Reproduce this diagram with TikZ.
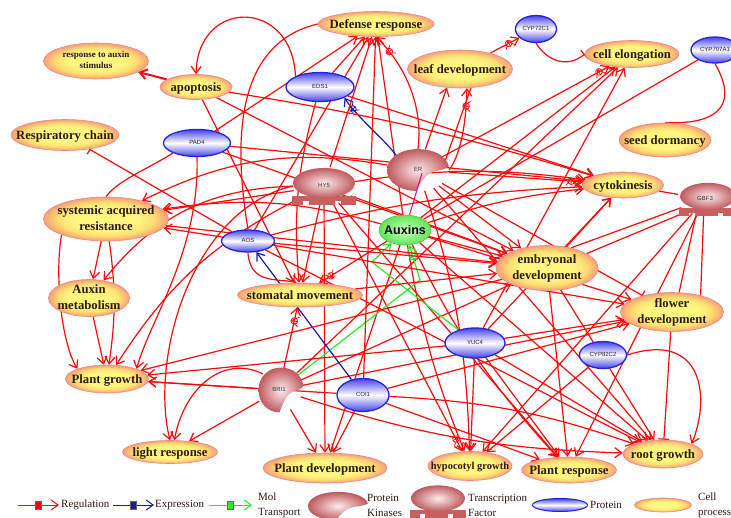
\documentclass[tikz,border=0pt]{standalone}
\usepackage{fontspec}
\setmainfont{Liberation Serif}
\setsansfont{Liberation Sans}
\usetikzlibrary{shapes.geometric,arrows.meta,decorations.markings}
\pgfdeclarelayer{bg}
\pgfdeclarelayer{edges}
\pgfsetlayers{bg,edges,main}
\definecolor{cpin}{RGB}{255,246,128}
\definecolor{cpmid}{RGB}{253,222,115}
\definecolor{cpout}{RGB}{246,160,118}
\definecolor{cpline}{RGB}{240,135,135}
\definecolor{pblue}{RGB}{35,35,230}
\definecolor{tfin}{RGB}{252,236,236}
\definecolor{tfout}{RGB}{192,90,95}
\definecolor{tfbase}{RGB}{200,95,95}
\definecolor{auxin}{RGB}{205,255,195}
\definecolor{auxout}{RGB}{95,230,85}
\definecolor{ered}{RGB}{250,10,10}
\definecolor{eblue}{RGB}{25,25,165}
\definecolor{egreen}{RGB}{40,235,40}
\definecolor{txt}{RGB}{45,25,20}
\pgfdeclareradialshading{cpshade}{\pgfpoint{0bp}{0bp}}{color(0bp)=(cpin); color(13bp)=(cpin); color(19bp)=(cpmid); color(25bp)=(cpout); color(50bp)=(cpout)}
\newcommand\cpf{\fontsize{12.7}{15.5}\selectfont\bfseries}
\newcommand\cpsf{\fontsize{9}{11}\selectfont\bfseries}
\newcommand\hypf{\fontsize{10.5}{12}\selectfont\bfseries}
\newcommand\prf{\fontsize{6}{7}\selectfont\sffamily}
\newcommand\auxf{\fontsize{12.5}{14}\selectfont\sffamily\bfseries}
\newcommand\legf{\fontsize{11}{15}\selectfont}
\newcommand\zt[1]{\makebox[0pt]{\raisebox{-0.33em}[0pt][0pt]{#1}}}
\newcommand\ztt[2]{\makebox[0pt]{\raisebox{-0.25em}[0pt][0pt]{\begin{tabular}{@{}c@{}}#1\\#2\end{tabular}}}}
\newcommand\opmark[1]{\draw[#1, fill=white, line width=0.8pt] (0,0) circle (3.3pt); \draw[#1, line width=0.8pt] (-3.3pt,0) -- (3.3pt,0) (0,-3.3pt) -- (0,3.3pt);}
\tikzset{
  cp/.style={ellipse, inner sep=0pt, draw=cpline, line width=0.6pt, shade, shading=cpshade, font=\cpf, text=txt},
  prot/.style={ellipse, inner sep=0pt, draw=pblue, line width=1.3pt, top color=pblue!85!white, bottom color=pblue!85!white, middle color=white, font=\prf, text=black!85},
  auxn/.style={ellipse, inner sep=0pt, draw=auxout!80!black, line width=0.5pt, inner color=auxin, outer color=auxout, font=\auxf, text=black},
  tfn/.style={ellipse, inner sep=0pt, font=\prf, text=black!80},
  ebase/.style={line width=1.2pt, line join=round},
  re/.style={ebase, draw=ered, -{Straight Barb[length=7pt,width=10pt]}},
  rl/.style={ebase, draw=ered},
  rb/.style={ebase, draw=ered, -{Bar[width=11pt]}},
  be/.style={ebase, draw=eblue, -{Straight Barb[length=7pt,width=10pt]}},
  ge/.style={ebase, draw=egreen, -{Straight Barb[length=7pt,width=10pt]}},
  pe/.style={line width=1pt, draw=magenta},
  op/.style={postaction={decorate,decoration={markings,mark=at position #1 with {\opmark{ered}}}}},
  op/.default=-14pt,
  opb/.style={postaction={decorate,decoration={markings,mark=at position #1 with {\opmark{eblue}}}}},
  opb/.default=-14pt,
  opg/.style={postaction={decorate,decoration={markings,mark=at position #1 with {\opmark{egreen}}}}},
  opg/.default=-14pt,
  sq/.style={rectangle, minimum width=6pt, minimum height=8pt, inner sep=0pt, draw=black!60},
  legt/.style={anchor=west, font=\legf, text=txt, inner sep=1pt, align=left},
  tfpic/.pic={
    \fill[tfbase] (-32,10) rectangle (32,15);
    \fill[tfbase] (-32,15) rectangle (-21,19);
    \fill[tfbase] (-15,15) rectangle (11,19);
    \fill[tfbase] (17,15) rectangle (32,19);
    \shade[inner color=tfin, outer color=tfout] (0,-3) ellipse [x radius=31, y radius=15];
  },
  kin/.pic={
    \shade[inner color=tfin, outer color=tfout] (30,-4) .. controls (27,-16) and (14,-22) .. (0,-22) .. controls (-18,-22) and (-30,-12) .. (-30,0) .. controls (-30,13) and (-17,22) .. (-2,22) .. controls (3,12) and (8,3) .. (18,1) .. controls (24,0) and (28,-2) .. (30,-4) -- cycle;
  }
}
\begin{document}
\begin{tikzpicture}[x=1pt,y=-1pt]
\useasboundingbox (0,0) rectangle (731,517);
\begin{pgfonlayer}{bg}
\fill[white] (0,0) rectangle (731,517);
\end{pgfonlayer}

% special shapes
\pic at (324,186) {tfpic};
\pic[scale=0.9] at (708,199) {tfpic};
\pic[xscale=1.03,yscale=0.95] at (418,170) {kin};
\pic[xscale=0.75,yscale=1.02] at (281,390) {kin};

% cell processes
\node[cp, minimum width=105pt, minimum height=36pt, font=\cpsf] (ras) at (96,61) {\ztt{response to auxin}{stimulus}};
\node[cp, minimum width=72pt, minimum height=25pt] (apo) at (196,87) {\zt{apoptosis}};
\node[cp, minimum width=116pt, minimum height=25pt] (def) at (376,24) {\zt{Defense response}};
\node[cp, minimum width=105pt, minimum height=38pt] (leaf) at (460,69) {\zt{leaf development}};
\node[cp, minimum width=94pt, minimum height=27pt] (celong) at (632,54) {\zt{cell elongation}};
\node[cp, minimum width=108pt, minimum height=31pt] (resp) at (65,135) {\zt{Respiratory chain}};
\node[cp, minimum width=92pt, minimum height=34pt] (seed) at (665,140) {\zt{seed dormancy}};
\node[cp, minimum width=81pt, minimum height=26pt] (cyto) at (623,185) {\zt{cytokinesis}};
\node[cp, minimum width=125pt, minimum height=44pt] (sar) at (106,219) {\ztt{systemic acquired}{resistance}};
\node[cp, minimum width=102pt, minimum height=45pt] (emb) at (547,268) {\ztt{embryonal}{development}};
\node[cp, minimum width=81pt, minimum height=37pt] (ameta) at (89,298) {\ztt{Auxin}{metabolism}};
\node[cp, minimum width=125pt, minimum height=24pt] (stom) at (300,295) {\zt{stomatal movement}};
\node[cp, minimum width=103pt, minimum height=39pt] (flower) at (672,312) {\ztt{flower}{development}};
\node[cp, minimum width=83pt, minimum height=28pt] (pgrowth) at (107,379) {\zt{Plant growth}};
\node[cp, minimum width=95pt, minimum height=23pt] (light) at (170,452) {\zt{light response}};
\node[cp, minimum width=124pt, minimum height=30pt] (pdev) at (325,468) {\zt{Plant development}};
\node[cp, minimum width=84pt, minimum height=29pt, font=\hypf] (hypo) at (470,466) {\zt{hypocotyl growth}};
\node[cp, minimum width=95pt, minimum height=26pt] (presp) at (569,470) {\zt{Plant response}};
\node[cp, minimum width=80pt, minimum height=28pt] (root) at (663,454) {\zt{root growth}};

% proteins
\node[prot, minimum width=41pt, minimum height=27pt] (cyp72) at (536,29) {\zt{CYP72C1}};
\node[prot, minimum width=48pt, minimum height=26pt] (cyp707) at (715,50) {\zt{CYP707A1}};
\node[prot, minimum width=68pt, minimum height=29pt] (eds) at (320,87) {\zt{EDS1}};
\node[prot, minimum width=67pt, minimum height=27pt] (pad) at (197,143) {\zt{PAD4}};
\node[prot, minimum width=53pt, minimum height=22pt] (aos) at (248,241) {\zt{AOS}};
\node[prot, minimum width=60pt, minimum height=30pt] (yuc) at (475,343) {\zt{YUC4}};
\node[prot, minimum width=47pt, minimum height=27pt] (cyp82) at (603,355) {\zt{CYP82C2}};
\node[prot, minimum width=52pt, minimum height=33pt] (coi) at (363,395) {\zt{COI1}};

% transcription factors / kinases
\node[tfn, minimum width=62pt, minimum height=38pt] (hy5) at (324,186) {\zt{HY5}};
\node[tfn, minimum width=56pt, minimum height=32pt] (gbf) at (705,199) {\zt{GBF3}};
\node[tfn, minimum width=62pt, minimum height=42pt] (er) at (418,170) {\zt{ER}};
\node[tfn, minimum width=45pt, minimum height=45pt] (bri) at (279,390) {\zt{BRI1}};

% Auxins
\node[auxn, minimum width=52pt, minimum height=30pt] (aux) at (405,230) {\zt{Auxins}};

\draw[pe] ([xshift=4pt,yshift=-3pt]er.center) -- (aux);

\coordinate (gk1) at (372,262);
\coordinate (gk2) at (420,280);

\begin{pgfonlayer}{edges}
% Auxins
\draw[re] (aux) -- (def);
\draw[re] (aux) -- (celong);
\draw[re] (aux) to[bend left=6] (cyto);
\draw[re] (aux) -- (emb);
\draw[re] (aux) -- (flower);
\draw[re] (aux) -- (root);
\draw[re] (aux) to[bend right=8] (presp);
\draw[re] (aux) to[bend right=6] (hypo);
\draw[re] (aux) -- (pdev);
\draw[re,op] (aux) -- (stom);
\draw[re] (aux) to[bend right=12] (sar);
% ER
\draw[re,op=-20pt] (er.north) .. controls (424,100) and (400,60) .. (def.south);
\draw[re] (er) -- (leaf.235);
\draw[re,op=-18pt] (er.east) .. controls (462,152) and (466,120) .. (leaf.290);
\draw[rl] (er.20) -- (leaf.300);
\draw[be,opb] (er.north west) .. controls (385,140) and (355,115) .. (eds.south east);
\draw[re,op=-12pt] (er) -- (celong);
\draw[re,op=-12pt] (er) -- (cyto);
\draw[re] (er) to[bend right=18] (sar);
\draw[re] (er) -- (root);
\draw[rb] (er) -- (flower);
\draw[re] (er) to[bend left=8] (hypo);
\draw[re] (er) -- (emb);
% HY5
\draw[re] (hy5) -- (def);
\draw[re] (hy5) -- (stom);
\draw[re] (hy5) -- (sar);
\draw[re] (hy5) -- (pdev);
\draw[re] (hy5) to[bend right=25] (ameta);
\draw[re] (hy5) -- (emb);
\draw[re] (hy5) to[bend left=8] (cyto);
\draw[re] (hy5) -- (presp);
\draw[re] (hy5.west) .. controls (190,210) and (150,360) .. (light.north);
\draw[re,op] (hy5) -- (hypo);
\draw[re] (hy5) to[bend right=15] (pgrowth);
% BRI1
\draw[re] (bri) -- (pdev);
\draw[re] (bri) -- (light);
\draw[re] (bri.north west) .. controls (225,355) and (185,385) .. (light.70);
\draw[re] (bri) -- (pgrowth);
\draw[re] (bri) -- (celong);
\draw[re] (bri) -- (emb);
\draw[re] (bri) to[bend right=8] (root);
\draw[re,op] (bri) -- (stom);
\draw[re] (bri) -- (flower);
\draw[ge] (yuc) -- (gk1) -- (aux);
\draw[ge,opg=-12pt] (bri) -- (gk2) -- (aux);
% COI1
\draw[be] (coi) -- (aos);
\draw[re] (coi) -- (pgrowth);
\draw[re] (coi) to[bend left=8] (root);
\draw[re] (coi) -- (flower);
\draw[re] (coi) -- (presp);
\draw[re] (coi) -- (pdev);
\draw[re] (coi) -- (def);
% YUC4
\draw[re] (yuc) -- (flower);
\draw[re] (yuc) -- (root);
\draw[re] (yuc) -- (presp);
\draw[re] (yuc) -- (hypo);
\draw[re] (yuc) -- (cyto);
\draw[re] (yuc) -- (celong);
\draw[re] (yuc) -- (pgrowth);
% GBF3
\draw[rl] (gbf) -- (cyto);
\draw[rl] (gbf.200) -- (emb.40);
\draw[rl] (gbf.215) -- (emb.20);
\draw[rl] (gbf.240) -- (flower.70);
\draw[rl] (gbf.265) -- (flower.30);
\draw[re] (gbf) -- (presp);
\draw[re] (gbf) -- (hypo);
% AOS
\draw[rb] (aos) -- (resp);
\draw[re] (aos) -- (sar);
\draw[re] (aos.south) .. controls (250,285) and (278,278) .. (stom.105);
\draw[re] (aos) -- (def);
\draw[re] (aos) to[bend left=6] (cyto);
\draw[re] (aos) -- (emb);
\draw[re] (aos) -- (root);
\draw[re] (aos) -- (flower);
% PAD4
\draw[rl] (pad.south west) .. controls (150,168) and (118,180) .. (sar.north);
\draw[re] (pad) -- (def);
\draw[re] (pad) -- (emb);
\draw[re] (pad) -- (cyto);
\draw[re] (pad.south) .. controls (200,250) and (150,320) .. (pgrowth.north east);
% EDS1
\draw[re] (eds.north west) .. controls (292,-2) and (198,-2) .. (apo.north);
\draw[re] (eds) -- (def);
\draw[re] (eds) -- (cyto);
\draw[re] (eds) to[bend right=10] (stom);
% misc
\draw[re, line width=2pt] (apo) -- (ras);
\draw[re,op=-12pt] (leaf) -- (cyp72);
\draw[rb] (cyp72.south) .. controls (548,62) and (568,68) .. (celong.west);
\draw[rl] (cyp707.south) .. controls (736,100) and (725,125) .. (seed.north);
\draw[rl] (cyp707) -- (aux);
\draw[re] (sar) -- (ameta);
\draw[re] (sar.south west) .. controls (55,270) and (60,340) .. (pgrowth.north west);
\draw[re] (sar) to[bend left=8] (pgrowth);
\draw[re] (ameta) -- (pgrowth);
\draw[re] (cyp82.east) .. controls (705,330) and (710,400) .. (root.north east);
\draw[re] (cyp82) -- (hypo);
\draw[re] (emb) -- (root);
\draw[re] (emb) -- (presp);
\draw[re] (emb) -- (cyto);
\draw[re] (emb) -- (pgrowth);
\draw[rb] (flower) -- (root);
\draw[re] (stom) -- (emb);
\draw[rl] (def.west) .. controls (250,40) and (228,110) .. (aos.north);
\draw[re] (apo) -- (emb);
\draw[re] (apo) to[bend left=4] (cyto);
\draw[re] (apo) -- (stom);
\draw[re] (sar) -- (emb);
\end{pgfonlayer}

% legend
\coordinate (lga) at (18,505); \coordinate (lgb) at (59,505);
\draw[re, line width=1pt] (lga) -- (lgb);
\node[sq, fill=red] (lgs1) at (38,505) {};
\node[legt] (lgt1) at (60,505) {Regulation};
\coordinate (lgc) at (113,505); \coordinate (lgd) at (154,505);
\draw[be, line width=1pt] (lgc) -- (lgd);
\node[sq, fill=eblue] (lgs2) at (133,505) {};
\node[legt] (lgt2) at (154,505) {Expression};
\coordinate (lge) at (209,505); \coordinate (lgf) at (252,505);
\draw[ge, line width=1pt] (lge) -- (lgf);
\node[sq, fill=egreen] (lgs3) at (230,505) {};
\node[legt] (lgt3) at (257,505) {Mol\\Transport};
\pic[yscale=0.64] at (338,506) {kin};
\node[legt] (lgt4) at (366,505) {Protein\\Kinases};
\pic[scale=0.87] at (438,501) {tfpic};
\node[legt] (lgt5) at (467,505) {Transcription\\Factor};
\node[prot, minimum width=55pt, minimum height=13pt, line width=1pt] (lgp) at (560,505) {};
\node[legt] (lgt6) at (589,505) {Protein};
\node[cp, minimum width=57pt, minimum height=14pt] (lgcp) at (663,505) {};
\node[legt] (lgt7) at (697,505) {Cell\\process};
\end{tikzpicture}
\end{document}
